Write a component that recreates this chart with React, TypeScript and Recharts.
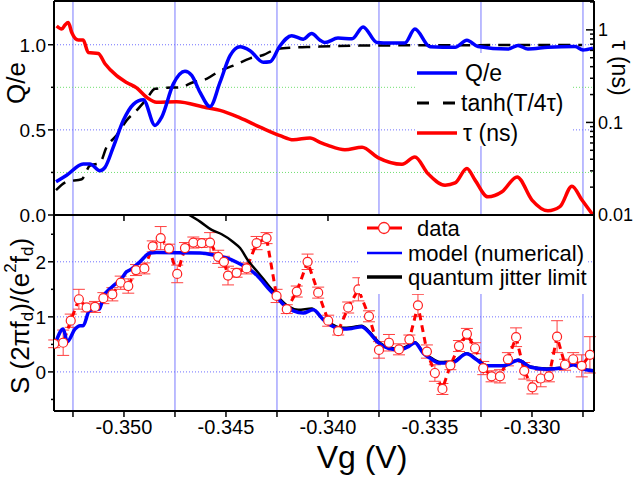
import { ComposedChart, Line, XAxis, YAxis, ReferenceLine, ErrorBar, Legend } from "recharts"

const FONT = "'Liberation Sans', Arial, Helvetica, sans-serif"

// shared x range (Vg, volts)
const vgDomain = [-0.35343, -0.32696]
const vgMajor = [-0.35, -0.345, -0.34, -0.335, -0.33]
const vgMinor = [-0.3525, -0.3475, -0.3425, -0.3375, -0.3325, -0.3275]

// top panel, left axis: Q/e
const qeVg = [-0.35333, -0.35281, -0.352, -0.35167, -0.35118, -0.35093, -0.35052, -0.35003, -0.34954, -0.34905, -0.34848, -0.34815, -0.34758, -0.34701, -0.34668, -0.34627, -0.34578, -0.34529, -0.3448, -0.34431, -0.34382, -0.34317, -0.34284, -0.34235, -0.34178, -0.34121, -0.3408, -0.34039, -0.34015, -0.33951, -0.33882, -0.33828, -0.3376, -0.33696, -0.33623, -0.33574, -0.335, -0.33377, -0.33319, -0.33265, -0.33118, -0.33069, -0.3302, -0.32922, -0.32789, -0.3275, -0.32701]
const qeVal = [0.195, 0.234, 0.3, 0.3, 0.26, 0.28, 0.4, 0.556, 0.65, 0.677, 0.526, 0.575, 0.77, 0.844, 0.82, 0.72, 0.637, 0.78, 0.936, 0.988, 0.965, 0.897, 0.9, 0.994, 1.053, 1.033, 1.066, 1.027, 1.013, 1.039, 1.035, 1.105, 1.013, 1.01, 1.01, 1.092, 0.988, 0.985, 1.027, 0.99, 0.975, 0.995, 0.975, 0.985, 0.99, 0.969, 0.98]

// tanh(T/4tau)
const tanhVg = [-0.35333, -0.35281, -0.35207, -0.35167, -0.35118, -0.35085, -0.35036, -0.34987, -0.34938, -0.34889, -0.34848, -0.34791, -0.34725, -0.3466, -0.34595, -0.34529, -0.34464, -0.34382, -0.34317, -0.34252, -0.3417, -0.34072, -0.33843, -0.33549, -0.33157, -0.32755]
const tanhVal = [0.146, 0.195, 0.21, 0.29, 0.306, 0.4, 0.468, 0.556, 0.614, 0.682, 0.741, 0.747, 0.75, 0.78, 0.8, 0.848, 0.877, 0.92, 0.94, 0.975, 0.984, 0.988, 0.995, 0.997, 0.998, 0.999]

// top panel, right (log) axis: tau in ns
const tauVg = [-0.3533, -0.35305, -0.35289, -0.35273, -0.35256, -0.35224, -0.352, -0.35175, -0.35126, -0.35093, -0.35036, -0.34987, -0.34938, -0.34889, -0.3484, -0.34742, -0.34595, -0.34529, -0.34431, -0.34333, -0.34235, -0.3417, -0.34088, -0.34039, -0.34, -0.33917, -0.33833, -0.33755, -0.33637, -0.33574, -0.3351, -0.33426, -0.33377, -0.33319, -0.33279, -0.33216, -0.33147, -0.33073, -0.33, -0.32922, -0.32863, -0.32804, -0.32755, -0.32701]
const tauVal = [1.1, 1.02, 1.13, 1.2, 0.935, 0.775, 0.775, 0.57, 0.556, 0.43, 0.32, 0.27, 0.236, 0.187, 0.165, 0.167, 0.144, 0.135, 0.112, 0.089, 0.072, 0.065, 0.068, 0.061, 0.0566, 0.0508, 0.054, 0.0417, 0.0353, 0.0423, 0.028, 0.021, 0.0222, 0.0318, 0.0238, 0.0157, 0.0178, 0.0258, 0.0145, 0.0111, 0.0123, 0.0205, 0.0145, 0.01]

// bottom panel: measured noise with error bars
const dataVg = [-0.35342, -0.35298, -0.35261, -0.35221, -0.35183, -0.35142, -0.35101, -0.35057, -0.35016, -0.34979, -0.34941, -0.349, -0.34859, -0.3482, -0.34779, -0.34739, -0.34701, -0.3466, -0.34619, -0.34578, -0.34538, -0.3451, -0.3449, -0.34448, -0.34399, -0.3435, -0.34301, -0.34252, -0.34202, -0.34153, -0.341, -0.34048, -0.33999, -0.3395, -0.33901, -0.33851, -0.33799, -0.3375, -0.33701, -0.33652, -0.33601, -0.33559, -0.33515, -0.33476, -0.33439, -0.334, -0.33358, -0.33319, -0.33279, -0.33239, -0.33198, -0.33157, -0.33118, -0.33078, -0.33038, -0.32998, -0.32957, -0.32917, -0.32877, -0.32838, -0.32798, -0.32756, -0.32716]
const dataS = [0.51, 0.53, 0.93, 1.32, 1.17, 1.18, 1.34, 1.41, 1.62, 1.56, 1.85, 1.88, 2.28, 2.43, 2.24, 1.78, 2.25, 2.35, 2.34, 2.35, 2.09, 2.0, 1.75, 1.8, 1.88, 2.34, 2.43, 1.38, 1.14, 1.46, 2.0, 1.44, 0.93, 0.74, 1.17, 1.5, 1.01, 0.4, 0.53, 0.41, 0.59, 1.21, 0.37, -0.02, -0.31, 0.12, 0.47, 0.69, 0.43, 0.07, -0.08, -0.08, 0.23, 0.63, 0.02, -0.28, -0.12, -0.08, 0.64, 0.13, 0.23, 0.11, 0.31]
const dataErr = [0.07, 0.23, 0.12, 0.18, 0.08, 0.1, 0.1, 0.12, 0.12, 0.13, 0.1, 0.1, 0.1, 0.21, 0.08, 0.16, 0.1, 0.1, 0.08, 0.18, 0.12, 0.1, 0.17, 0.08, 0.1, 0.12, 0.1, 0.12, 0.08, 0.1, 0.14, 0.1, 0.1, 0.07, 0.1, 0.21, 0.1, 0.15, 0.15, 0.1, 0.08, 0.2, 0.12, 0.15, 0.1, 0.08, 0.1, 0.1, 0.1, 0.12, 0.1, 0.12, 0.12, 0.17, 0.15, 0.12, 0.15, 0.1, 0.29, 0.1, 0.12, 0.2, 0.33]

// model (numerical)
const modelVg = [-0.3533, -0.35298, -0.35278, -0.3524, -0.35216, -0.352, -0.3517, -0.3515, -0.35121, -0.35101, -0.3506, -0.35011, -0.34987, -0.34971, -0.34922, -0.34873, -0.3484, -0.34627, -0.34546, -0.3448, -0.34431, -0.34391, -0.34342, -0.34293, -0.34252, -0.34211, -0.3417, -0.34121, -0.34072, -0.34023, -0.33982, -0.33933, -0.33884, -0.33835, -0.33802, -0.33753, -0.33704, -0.33647, -0.33606, -0.33574, -0.33533, -0.335, -0.33451, -0.33394, -0.3332, -0.33271, -0.33222, -0.33141, -0.33067, -0.3301, -0.32928, -0.32847, -0.32798, -0.32749, -0.327]
const modelS = [0.58, 0.78, 0.55, 0.78, 0.84, 0.84, 1.11, 1.13, 1.14, 1.36, 1.54, 1.7, 1.82, 1.85, 2.0, 2.16, 2.17, 2.16, 2.11, 2.05, 1.96, 1.88, 1.73, 1.52, 1.36, 1.2, 1.11, 1.07, 1.13, 0.95, 0.84, 0.78, 0.79, 0.82, 0.73, 0.53, 0.43, 0.4, 0.46, 0.53, 0.34, 0.25, 0.16, 0.16, 0.33, 0.22, 0.11, 0.11, 0.21, 0.09, 0.05, 0.07, 0.13, 0.05, 0.02]

// quantum jitter limit
const jitterVg = [-0.3468, -0.34627, -0.3457, -0.34521, -0.34468, -0.34431, -0.34391, -0.34342, -0.34293, -0.34244, -0.34195, -0.34146, -0.3408, -0.34031, -0.33982, -0.33933, -0.33884, -0.33835, -0.33802, -0.33753, -0.33704, -0.33647, -0.33606, -0.33574, -0.33533, -0.335, -0.33451, -0.33394, -0.3332, -0.33271, -0.33222, -0.33141, -0.33067, -0.3301, -0.32928, -0.32847, -0.32798, -0.32749, -0.327]
const jitterS = [2.85, 2.73, 2.58, 2.5, 2.37, 2.25, 2.02, 1.8, 1.58, 1.36, 1.19, 1.13, 1.15, 0.98, 0.87, 0.8, 0.81, 0.84, 0.75, 0.55, 0.45, 0.42, 0.48, 0.54, 0.36, 0.27, 0.18, 0.18, 0.34, 0.23, 0.12, 0.12, 0.22, 0.1, 0.06, 0.08, 0.14, 0.06, 0.03]

// axis ticks
const qeTicks = [0, 0.25, 0.5, 0.75, 1.0]
const qeMajor = [0, 0.5, 1.0]
const tauTicks = [0.01, 0.02, 0.03, 0.04, 0.05, 0.06, 0.07, 0.08, 0.09, 0.1, 0.2, 0.3, 0.4, 0.5, 0.6, 0.7, 0.8, 0.9, 1, 2]
const tauMajor = [0.01, 0.1, 1]
const sTicks = [-0.5, 0, 0.5, 1, 1.5, 2, 2.5]
const sMajor = [0, 1, 2]

const qeTop = 1.257
const sDomain = [-0.71, 2.85]

const zip = (xs: number[], ys: number[]) => xs.map((vg, i) => ({ vg, v: ys[i] }))
const qeData = zip(qeVg, qeVal)
const tanhData = zip(tanhVg, tanhVal)
const tauData = zip(tauVg, tauVal)
const modelData = zip(modelVg, modelS)
const jitterData = zip(jitterVg, jitterS)
const noiseData = dataVg.map((vg, i) => ({ vg, v: dataS[i], err: dataErr[i] }))

const AXIS = { stroke: "#000", strokeWidth: 2 }
const same = (a: number, b: number) => Math.abs(a - b) < 1e-9
const isMajorVg = (v: number) => vgMajor.some((m) => same(m, v))

const leftTick = (major: number[], fmt: (v: number) => string) => (p: any) => {
  const v = p.payload.value
  const big = major.some((m) => same(m, v))
  return (
    <g>
      <line x1={p.x - (big ? 6 : 3)} x2={p.x} y1={p.y} y2={p.y} stroke="#000" strokeWidth={1.5} />
      {big && (
        <text x={p.x - 8} y={p.y} dy="0.36em" textAnchor="end" fontSize={19} fontFamily={FONT} fill="#000">
          {fmt(v)}
        </text>
      )}
    </g>
  )
}

const tauTick = (p: any) => {
  const v = p.payload.value
  const big = tauMajor.includes(v)
  return (
    <g>
      <line x1={p.x - (big ? 8 : 4)} x2={p.x} y1={p.y} y2={p.y} stroke="#000" strokeWidth={1.5} />
      {big && (
        <text x={p.x + 4} y={p.y} dy="0.36em" textAnchor="start" fontSize={18} fontFamily={FONT} fill="#000">
          {String(v)}
        </text>
      )}
    </g>
  )
}

const downTick = (withLabel: boolean) => (p: any) => {
  const v = p.payload.value
  return (
    <g>
      <line x1={p.x} x2={p.x} y1={p.y} y2={p.y + 6} stroke="#000" strokeWidth={1.5} />
      {withLabel && isMajorVg(v) && (
        <text x={p.x} y={p.y + 23} textAnchor="middle" fontSize={20} fontFamily={FONT} fill="#000">
          {v.toFixed(3)}
        </text>
      )}
    </g>
  )
}

const upTick = (p: any) => (
  <line x1={p.x} x2={p.x} y1={p.y} y2={p.y - 6} stroke="#000" strokeWidth={1.5} />
)

const qeLabel = () => (
  <text transform="rotate(-90 16 83)" x={16} y={83} textAnchor="middle" dominantBaseline="central" fontSize={26} fontFamily={FONT} fill="#000">
    Q/e
  </text>
)

const tauLabel = () => (
  <text transform="rotate(90 620 68)" x={620} y={68} textAnchor="middle" dominantBaseline="central" fontSize={23} fontFamily={FONT} fill="#000">
    τ (ns)
  </text>
)

const sLabel = () => (
  <text transform="rotate(-90 20 111)" x={20} y={111} textAnchor="middle" dominantBaseline="central" fontSize={26} fontFamily={FONT} fill="#000">
    S (2πf<tspan fontSize={17} dy={7}>d</tspan>
    <tspan dy={-7}>)/(e</tspan>
    <tspan fontSize={17} dy={-10}>2</tspan>
    <tspan dy={10}>f</tspan>
    <tspan fontSize={17} dy={7}>d</tspan>
    <tspan dy={-7}>)</tspan>
  </text>
)

const vgLabel = () => (
  <text x={362} y={263} textAnchor="middle" fontSize={32} fontFamily={FONT} fill="#000">
    Vg (V)
  </text>
)

const legendText = { fontFamily: FONT, fill: "#000" }

const TopLegend = () => (
  <svg width={158} height={93} style={{ display: "block" }}>
    <line x1={2} x2={42} y1={20} y2={20} stroke="#0000ff" strokeWidth={3.5} />
    <text x={50} y={20} dy="0.36em" fontSize={23} {...legendText}>Q/e</text>
    <line x1={2} x2={42} y1={50} y2={50} stroke="#000" strokeWidth={3} strokeDasharray="12 14" />
    <text x={46} y={50} dy="0.36em" fontSize={23} {...legendText}>tanh(T/4τ)</text>
    <line x1={2} x2={42} y1={80} y2={80} stroke="#ff0000" strokeWidth={3.5} />
    <text x={48} y={80} dy="0.36em" fontSize={23} {...legendText}>τ (ns)</text>
  </svg>
)

const BottomLegend = () => (
  <svg width={228} height={78} style={{ display: "block" }}>
    <line x1={7} x2={42} y1={12} y2={12} stroke="#ff0000" strokeWidth={3} />
    <circle cx={24} cy={12} r={5.5} fill="#fff" stroke="#ff2020" strokeWidth={1.3} />
    <text x={57} y={12} dy="0.36em" fontSize={22} {...legendText}>data</text>
    <line x1={7} x2={42} y1={37} y2={37} stroke="#0000ff" strokeWidth={2.5} />
    <text x={48} y={37} dy="0.36em" fontSize={22} {...legendText}>model (numerical)</text>
    <line x1={7} x2={42} y1={61} y2={61} stroke="#000" strokeWidth={3.5} />
    <text x={48} y={61} dy="0.36em" fontSize={22} {...legendText}>quantum jitter limit</text>
  </svg>
)

const dataDot = (p: any) => (
  <circle key={`d-${p.index}`} cx={p.cx} cy={p.cy} r={4.5} fill="#fff" stroke="#ff2020" strokeWidth={1.2} />
)

export default function App() {
  return (
    <div style={{ position: "absolute", left: 0, top: 0, width: 635, height: 479, background: "#fff", fontFamily: FONT }}>
      <div style={{ position: "absolute", left: 0, top: 0 }}>
        <ComposedChart width={635} height={230} margin={{ top: 1, right: 0, bottom: 0, left: 0 }}>
          <XAxis
            type="number"
            dataKey="vg"
            domain={vgDomain}
            allowDataOverflow
            ticks={vgMajor}
            interval={0}
            height={15}
            tickSize={0}
            tickMargin={0}
            tick={downTick(false)}
            axisLine={AXIS}
          />
          <YAxis
            yAxisId="q"
            domain={[0, qeTop]}
            allowDataOverflow
            ticks={qeTicks}
            interval={0}
            width={54}
            tickSize={0}
            tickMargin={0}
            tick={leftTick(qeMajor, (v) => v.toFixed(1))}
            axisLine={AXIS}
            label={qeLabel}
          />
          <YAxis
            yAxisId="tau"
            orientation="right"
            scale="log"
            domain={[0.01, 2.05]}
            allowDataOverflow
            ticks={tauTicks}
            interval={0}
            width={41}
            tickSize={0}
            tickMargin={0}
            tick={tauTick}
            axisLine={AXIS}
            label={tauLabel}
          />
          {vgMinor.map((x) => (
            <ReferenceLine key={`vx-${x}`} yAxisId="q" x={x} stroke="#7a7aff" strokeWidth={1} />
          ))}
          {[0.5, 1.0].map((y) => (
            <ReferenceLine key={`hb-${y}`} yAxisId="q" y={y} stroke="#7070ff" strokeDasharray="1 2" />
          ))}
          {[0.25, 0.75].map((y) => (
            <ReferenceLine key={`hg-${y}`} yAxisId="q" y={y} stroke="#70e070" strokeDasharray="1 2" />
          ))}
          <ReferenceLine yAxisId="q" y={qeTop} stroke="#000" strokeWidth={2} />
          <Line yAxisId="tau" data={tauData} dataKey="v" type="monotone" stroke="#ff0000" strokeWidth={3.5} dot={false} activeDot={false} isAnimationActive={false} />
          <Line yAxisId="q" data={tanhData} dataKey="v" type="monotone" stroke="#000" strokeWidth={2.5} strokeDasharray="12 8" dot={false} activeDot={false} isAnimationActive={false} />
          <Line yAxisId="q" data={qeData} dataKey="v" type="monotone" stroke="#0000ff" strokeWidth={3.5} dot={false} activeDot={false} isAnimationActive={false} />
          <Legend
            layout="vertical"
            align="center"
            verticalAlign="middle"
            wrapperStyle={{ left: 415, top: 53, width: 158, height: 93, background: "#fff" }}
            content={() => <TopLegend />}
          />
        </ComposedChart>
      </div>

      <div style={{ position: "absolute", left: 0, top: 205 }}>
        <ComposedChart width={635} height={274} margin={{ top: 0, right: 0, bottom: 0, left: 0 }}>
          <XAxis
            xAxisId="top"
            orientation="top"
            type="number"
            domain={vgDomain}
            allowDataOverflow
            ticks={vgMajor}
            interval={0}
            height={10}
            tickSize={0}
            tickMargin={0}
            tick={upTick}
            axisLine={AXIS}
          />
          <XAxis
            type="number"
            dataKey="vg"
            domain={vgDomain}
            allowDataOverflow
            ticks={[...vgMinor, ...vgMajor]}
            interval={0}
            height={68}
            tickSize={0}
            tickMargin={0}
            tick={downTick(true)}
            axisLine={AXIS}
            label={vgLabel}
          />
          <YAxis
            yAxisId="s"
            domain={sDomain}
            allowDataOverflow
            ticks={sTicks}
            interval={0}
            width={54}
            tickSize={0}
            tickMargin={0}
            tick={leftTick(sMajor, (v) => String(v))}
            axisLine={AXIS}
            label={sLabel}
          />
          <YAxis yAxisId="r" orientation="right" domain={sDomain} allowDataOverflow width={41} tick={false} tickLine={false} axisLine={AXIS} />
          {vgMinor.map((x) => (
            <ReferenceLine key={`bx-${x}`} yAxisId="s" x={x} stroke="#7a7aff" strokeWidth={1} />
          ))}
          {sMajor.map((y) => (
            <ReferenceLine key={`bh-${y}`} yAxisId="s" y={y} stroke="#7070ff" strokeDasharray="1 2" />
          ))}
          <Line yAxisId="s" data={noiseData} dataKey="v" type="linear" stroke="#ff0000" strokeWidth={3} strokeDasharray="7 5" dot={dataDot} activeDot={false} isAnimationActive={false}>
            <ErrorBar dataKey="err" direction="y" width={6} stroke="#ff4040" strokeWidth={1} isAnimationActive={false} />
          </Line>
          <Line yAxisId="s" data={jitterData} dataKey="v" type="monotone" stroke="#000" strokeWidth={2.5} dot={false} activeDot={false} isAnimationActive={false} />
          <Line yAxisId="s" data={modelData} dataKey="v" type="monotone" stroke="#0000ff" strokeWidth={3.5} dot={false} activeDot={false} isAnimationActive={false} />
          <Legend
            layout="vertical"
            align="center"
            verticalAlign="middle"
            wrapperStyle={{ left: 360, top: 11, width: 228, height: 78, background: "#fff" }}
            content={() => <BottomLegend />}
          />
        </ComposedChart>
      </div>
    </div>
  )
}
